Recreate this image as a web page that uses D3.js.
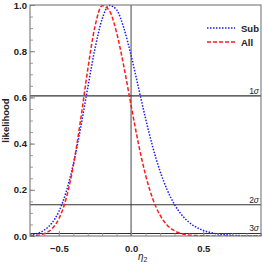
<!DOCTYPE html>
<html>
<head>
<meta charset="utf-8">
<script src="https://cdn.jsdelivr.net/npm/d3@7"></script>
<style>
  body { margin: 0; background: #fff; }
  svg text { font-family: "Liberation Sans", Arial, sans-serif; }
</style>
</head>
<body>
<svg id="chart" width="262" height="265"></svg>
<script>
// values
let etaVals = [-0.70, -0.65, -0.60, -0.55, -0.50, -0.45, -0.40, -0.35, -0.30, -0.25, -0.20, -0.15, -0.10, -0.05,
  0.00, 0.05, 0.10, 0.15, 0.20, 0.25, 0.30, 0.35, 0.40, 0.45, 0.50, 0.55, 0.60, 0.65, 0.70, 0.75, 0.80, 0.85, 0.90];
let subVals = [0.004, 0.011, 0.026, 0.055, 0.106, 0.190, 0.311, 0.466, 0.642, 0.811, 0.940, 0.998, 0.979, 0.900,
  0.782, 0.646, 0.510, 0.386, 0.282, 0.200, 0.137, 0.092, 0.060, 0.039, 0.024, 0.015, 0.009, 0.006, 0.003, 0.002, 0.001, 0.001, 0.000];
let allVals = [0.001, 0.003, 0.011, 0.030, 0.075, 0.161, 0.304, 0.500, 0.721, 0.907, 0.997, 0.975, 0.880, 0.734,
  0.566, 0.403, 0.265, 0.161, 0.091, 0.047, 0.023, 0.010, 0.004, 0.002, 0.001, 0.000, 0.000, 0.000, 0.000, 0.000, 0.000, 0.000, 0.000];
let sigmaLabels = ["1σ", "2σ", "3σ"];
let sigmaVals = [Math.exp(-0.5), Math.exp(-2), Math.exp(-4.5)];
let xTicks = [-0.5, 0.0, 0.5];
let yTicks = [0.0, 0.2, 0.4, 0.6, 0.8, 1.0];
let seriesNames = ["Sub", "All"];

const margin = { left: 30, right: 1, top: 5, bottom: 29 };
const W = 262, H = 265;
const svg = d3.select("#chart");

let x = d3.scaleLinear().domain([-0.7, 0.9]).range([margin.left, W - margin.right]);
let y = d3.scaleLinear().domain([0, 1]).range([H - margin.bottom, margin.top]);

// reference lines
svg.append("line")
  .attr("x1", x(0)).attr("x2", x(0))
  .attr("y1", y(0)).attr("y2", y(1))
  .attr("stroke", "#555").attr("stroke-width", 1.1);

svg.selectAll(".sig").data(sigmaVals).enter().append("line")
  .attr("x1", x.range()[0]).attr("x2", x.range()[1])
  .attr("y1", d => y(d)).attr("y2", d => y(d))
  .attr("stroke", "#333").attr("stroke-width", 1.1);

svg.selectAll(".sigLab").data(sigmaLabels).enter().append("text")
  .attr("x", x.range()[1] - 2)
  .attr("y", (d, i) => y(sigmaVals[i]) - 2)
  .attr("text-anchor", "end")
  .attr("font-size", 8.5)
  .attr("fill", "#222")
  .html(d => d[0] + "<tspan font-style='italic'>" + d[1] + "</tspan>");

// curves
let line = d3.line()
  .curve(d3.curveMonotoneX)
  .x((d, i) => x(etaVals[i]))
  .y(d => y(d));

let clip = svg.append("clipPath").attr("id", "clip").append("rect")
  .attr("x", x.range()[0]).attr("y", y(1) - 2)
  .attr("width", x.range()[1] - x.range()[0]).attr("height", y(0) - y(1) + 2);

svg.append("path").datum(subVals)
  .attr("d", line)
  .attr("clip-path", "url(#clip)")
  .attr("fill", "none").attr("stroke", "#1a1aff")
  .attr("stroke-width", 1.5).attr("stroke-dasharray", "1.5,1.5");

svg.append("path").datum(allVals)
  .attr("d", line)
  .attr("clip-path", "url(#clip)")
  .attr("fill", "none").attr("stroke", "#ff1a1a")
  .attr("stroke-width", 1.5).attr("stroke-dasharray", "4,2");

// axes, ticks inside the frame
let xAxis = d3.axisBottom(x).tickValues(d3.range(-0.7, 0.91, 0.1)).tickSize(-3).tickFormat("");
let gx = svg.append("g").attr("transform", "translate(0," + y(0) + ")").call(xAxis);
gx.selectAll(".tick line").attr("stroke", "#888").attr("stroke-width", 0.8);
let gxMaj = svg.append("g").attr("transform", "translate(0," + y(0) + ")")
  .call(d3.axisBottom(x).tickValues(xTicks).tickSize(-5).tickPadding(9).tickFormat(d3.format(".1f")));
gxMaj.selectAll(".tick line").attr("stroke", "#888");
gxMaj.selectAll(".tick text").attr("font-size", 9.5).attr("font-weight", "bold").attr("fill", "#222")
  .text(d => d3.format(".1f")(d).replace("-", "\u2212"));

let yAxis = d3.axisLeft(y).tickValues(d3.range(0, 1.001, 0.05)).tickSize(-3).tickFormat("");
let gy = svg.append("g").attr("transform", "translate(" + x.range()[0] + ",0)").call(yAxis);
gy.selectAll(".tick line").attr("stroke", "#888").attr("stroke-width", 0.8);
let gyMaj = svg.append("g").attr("transform", "translate(" + x.range()[0] + ",0)")
  .call(d3.axisLeft(y).tickValues(yTicks).tickSize(-5).tickPadding(3).tickFormat(d3.format(".1f")));
gyMaj.selectAll(".tick line").attr("stroke", "#888");
gyMaj.selectAll(".tick text").attr("font-size", 9.5).attr("font-weight", "bold").attr("fill", "#222");

[gx, gxMaj, gy, gyMaj].forEach(g => g.select(".domain").remove());

// frame
svg.append("rect")
  .attr("x", x.range()[0]).attr("y", y(1))
  .attr("width", x.range()[1] - x.range()[0]).attr("height", y(0) - y(1))
  .attr("fill", "none").attr("stroke", "#777").attr("stroke-width", 1.1);

// labels
svg.append("text")
  .attr("transform", "translate(9," + ((y(0) + y(1)) / 2) + ") rotate(-90)")
  .attr("text-anchor", "middle")
  .attr("font-size", 9.5).attr("font-weight", "bold").attr("fill", "#222")
  .text("likelihood");

svg.append("text")
  .attr("x", x(0.08)).attr("y", 260)
  .attr("text-anchor", "middle")
  .attr("font-size", 10).attr("fill", "#222")
  .html("<tspan font-style='italic'>η</tspan><tspan font-size='7' dy='2'>2</tspan>");

// legend
let legStyles = [{ c: "#1a1aff", dash: "1.5,1.5" }, { c: "#ff1a1a", dash: "4,2" }];
let leg = svg.selectAll(".leg").data(seriesNames).enter().append("g")
  .attr("transform", (d, i) => "translate(207," + (28 + i * 14) + ")");
leg.append("line")
  .attr("x1", 0).attr("x2", 28)
  .attr("stroke", (d, i) => legStyles[i].c)
  .attr("stroke-width", 1.5)
  .attr("stroke-dasharray", (d, i) => legStyles[i].dash);
leg.append("text")
  .attr("x", 34).attr("y", 3.5)
  .attr("font-size", 9.5).attr("font-weight", "bold").attr("fill", "#222")
  .text(d => d);
</script>
</body>
</html>
